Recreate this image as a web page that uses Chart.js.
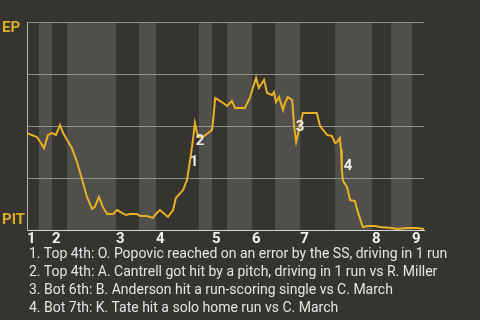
<!doctype html>
<html>

<head>
    <title>Win Probability</title>
    <script src="https://cdn.jsdelivr.net/npm/chart.js@4.4.1/dist/chart.umd.min.js"></script>
    <style>
        body { margin: 0; background: #363430; }
        #wrap { position: relative; width: 480px; height: 320px; background: #363430; overflow: hidden; }
        #holder { position: absolute; left: 0; top: 0; width: 480px; height: 250px; }
        #notes { position: absolute; left: 29px; top: 244px; font: 14px Roboto, sans-serif; line-height: 18px; color: #e4e4e4; white-space: nowrap; }
    </style>
</head>

<body>
    <div id="wrap">
        <div id="holder">
            <canvas id="chart-area" width="480" height="250"></canvas>
        </div>
        <div id="notes"></div>
    </div>
    <script>
    // game progress (0-100) where each half inning starts, last value = end of game
    var halfInnings = [0, 3.0, 6.3, 10.1, 22.4, 28.2, 32.5, 43.3, 46.6, 50.4, 56.7, 62.5, 68.8, 77.6, 86.9, 91.7, 97.0, 100];
    var inningLabels = ['1', '2', '3', '4', '5', '6', '7', '8', '9'];

    // win probability for EP (1 = EP, 0 = PIT)
    var progress = [0, 2.5, 3.0, 4.3, 5.3, 6.3, 7.3, 8.3, 9.1, 10.1, 11.3, 12.6, 13.9, 15.1, 16.4, 17.1, 18.1, 19.1, 20.2, 21.7,
        22.7, 23.9, 24.9, 25.9, 27.7, 28.5, 30.2, 31.7, 32.7, 33.5, 35.5, 36.8, 37.5, 39.3, 40.3, 41.1, 41.8, 42.3, 42.8, 43.1,
        44.3, 46.6, 46.9, 47.4, 49.1, 50.4, 51.6, 52.4, 54.9, 56.2, 56.9, 57.7, 58.4, 59.7, 60.5, 61.7, 62.2, 62.7, 63.5, 64.5,
        65.0, 65.7, 66.8, 67.3, 67.8, 69.5, 73.0, 73.8, 75.6, 76.8, 77.6, 78.1, 78.8, 79.1, 79.3, 79.6, 80.6, 81.4, 82.6, 83.4,
        84.6, 85.9, 87.7, 88.9, 91.9, 93.2, 95.7, 98.2, 100];
    var winProb = [0.466, 0.447, 0.433, 0.394, 0.457, 0.466, 0.457, 0.505, 0.466, 0.433, 0.394, 0.327, 0.240, 0.159, 0.101, 0.111, 0.159, 0.111, 0.077, 0.077,
        0.096, 0.082, 0.072, 0.077, 0.077, 0.067, 0.067, 0.058, 0.082, 0.096, 0.063, 0.096, 0.154, 0.192, 0.240, 0.337, 0.433, 0.514, 0.471, 0.447,
        0.447, 0.481, 0.529, 0.635, 0.615, 0.596, 0.620, 0.587, 0.587, 0.639, 0.683, 0.731, 0.683, 0.721, 0.659, 0.649, 0.663, 0.615, 0.639, 0.577,
        0.611, 0.639, 0.625, 0.495, 0.423, 0.563, 0.563, 0.500, 0.457, 0.452, 0.418, 0.423, 0.442, 0.385, 0.288, 0.236, 0.207, 0.144, 0.139, 0.082,
        0.014, 0.019, 0.019, 0.014, 0.010, 0.005, 0.010, 0.010, 0.005];

    var gridValues = [0, 0.25, 0.5, 0.75, 1];
    var teamLabels = ['PIT', 'EP'];
    var teamValues = [0.048, 0.971];

    // scoring plays: number, progress, probability where the number sits
    var playNums = ['1', '2', '3', '4'];
    var playX = [42.1, 43.6, 68.8, 80.9];
    var playY = [0.327, 0.428, 0.495, 0.308];
    var playText = [
        'Top 4th: O. Popovic reached on an error by the SS, driving in 1 run',
        'Top 4th: A. Cantrell got hit by a pitch, driving in 1 run vs R. Miller',
        'Bot 6th: B. Anderson hit a run-scoring single vs C. March',
        'Bot 7th: K. Tate hit a solo home run vs C. March'
    ];

    var points = progress.map(function(p, i) { return { x: p, y: winProb[i] }; });

    var bandPlugin = {
        id: 'bands',
        beforeDraw: function(chart) {
            var c = chart.ctx, a = chart.chartArea, xs = chart.scales.x;
            c.save();
            c.fillStyle = '#504f4c';
            for (var i = 1; i < halfInnings.length - 1; i += 2) {
                var x0 = xs.getPixelForValue(halfInnings[i]);
                var x1 = xs.getPixelForValue(halfInnings[i + 1]);
                c.fillRect(x0, a.top, x1 - x0, a.bottom - a.top);
            }
            c.restore();
        }
    };

    var playPlugin = {
        id: 'plays',
        afterDatasetsDraw: function(chart) {
            var c = chart.ctx, xs = chart.scales.x, ys = chart.scales.y;
            c.save();
            c.fillStyle = '#ececec';
            c.font = 'bold 15px Roboto';
            c.textAlign = 'center';
            c.textBaseline = 'middle';
            playNums.forEach(function(n, i) {
                c.fillText(n, xs.getPixelForValue(playX[i]), ys.getPixelForValue(playY[i]));
            });
            c.restore();
        }
    };

    var config = {
        type: 'line',
        data: {
            datasets: [{
                data: points,
                borderColor: '#e8b022',
                borderWidth: 2,
                pointRadius: 0,
                tension: 0,
                fill: false
            }]
        },
        options: {
            responsive: false,
            animation: false,
            layout: { padding: { top: 22, right: 56, left: 2, bottom: 0 } },
            plugins: { legend: { display: false }, tooltip: { enabled: false } },
            scales: {
                x: {
                    type: 'linear',
                    min: 0,
                    max: 100,
                    afterBuildTicks: function(scale) {
                        scale.ticks = halfInnings.filter(function(v, i) { return i % 2 === 0 && i < halfInnings.length - 1; })
                            .map(function(v) { return { value: v }; });
                    },
                    afterFit: function(scale) { scale.height = 20; },
                    ticks: {
                        autoSkip: false,
                        maxRotation: 0,
                        align: 'start',
                        padding: 0,
                        color: '#f0f0f0',
                        font: { family: 'Roboto', size: 15, weight: 'bold' },
                        callback: function(v, i) { return inningLabels[i]; }
                    },
                    grid: { display: false, drawTicks: false },
                    border: { display: true, color: '#d4d4d4', width: 1 }
                },
                y: {
                    min: 0,
                    max: 1,
                    afterBuildTicks: function(scale) {
                        var vals = gridValues.concat(teamValues).sort(function(a, b) { return a - b; });
                        scale.ticks = vals.map(function(v) { return { value: v }; });
                    },
                    afterFit: function(scale) { scale.width = 25; },
                    ticks: {
                        autoSkip: false,
                        crossAlign: 'far',
                        color: '#dcaa28',
                        font: { family: 'Roboto', size: 15, weight: 'bold' },
                        callback: function(v) {
                            var k = teamValues.indexOf(v);
                            return k >= 0 ? teamLabels[k] : '';
                        }
                    },
                    grid: {
                        drawTicks: false,
                        color: function(ctx) {
                            return ctx.tick && teamValues.indexOf(ctx.tick.value) >= 0 ? 'rgba(0,0,0,0)' : '#8e8e8c';
                        }
                    },
                    border: { display: true, color: '#b4b4b4', width: 1 }
                }
            }
        },
        plugins: [bandPlugin, playPlugin]
    };

    window.onload = function() {
        var ctx = document.getElementById("chart-area").getContext("2d");
        window.myLine = new Chart(ctx, config);
        document.getElementById('notes').innerHTML = playNums.map(function(n, i) {
            return n + '. ' + playText[i];
        }).join('<br>');
    };
    </script>
</body>

</html>
